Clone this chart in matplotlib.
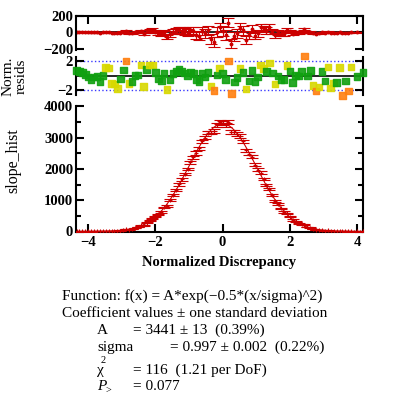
import numpy as np
import matplotlib
matplotlib.use("Agg")
import matplotlib.pyplot as plt
from matplotlib.ticker import MultipleLocator

plt.rcParams['font.family'] = ['Liberation Serif', 'DejaVu Serif']

# histogram bins (regular spacing)
bin_first = -4.335
bin_width = 0.08675
# counts per bin
counts = [1, 1, 1, 1, 1, 1, 2, 3, 3, 6,
          12, 15, 11, 15, 18, 31, 49, 74, 63, 84,
          115, 145, 199, 198, 282, 353, 422, 477, 545, 632,
          768, 825, 994, 1168, 1332, 1505, 1667, 1836, 1999, 2205,
          2378, 2510, 2664, 2879, 2998, 3160, 3161, 3211, 3396, 3491,
          3460, 3397, 3508, 3184, 3187, 3114, 3055, 2879, 2601, 2491,
          2388, 2133, 1981, 1874, 1675, 1486, 1367, 1160, 969, 872,
          738, 632, 582, 476, 369, 322, 264, 225, 216, 141,
          121, 78, 55, 45, 47, 29, 32, 13, 11, 8,
          12, 2, 3, 1, 5, 0, 1, 0, 1]

# fit result
A = 3441
sigma = 0.997

red = '#cc0000'

counts = np.array(counts, dtype=float)
x = bin_first + bin_width*np.arange(len(counts))
fit = A*np.exp(-0.5*(x/sigma)**2)
err = np.sqrt(counts)
ok = counts > 0
resid = counts[ok] - fit[ok]
nres = resid/err[ok]
cols = np.where(np.abs(nres) < 1, '#10a010', np.where(np.abs(nres) < 2, '#d8d800', '#ff8010'))

fig = plt.figure(figsize=(3.94, 4.09), dpi=100)
L = 76/394
W = 287/394
ax1 = fig.add_axes([L, 1-50/409, W, 34/409])
ax2 = fig.add_axes([L, 1-95/409, W, 38/409])
ax3 = fig.add_axes([L, 1-231.5/409, W, 125.5/409])

xlo, xhi = -4.35, 4.17

for ax in (ax1, ax2, ax3):
    ax.set_xlim(xlo, xhi)
    for s in ax.spines.values():
        s.set_linewidth(1.5)
    ax.yaxis.set_ticks_position('both')
    ax.tick_params(axis='both', direction='in', width=1.5, length=6)

# top: raw residuals
ax1.axhline(0, color='black', lw=1.2, zorder=1)
ax1.errorbar(x[ok], resid, yerr=err[ok], fmt='o', ms=1.8, color=red,
             elinewidth=0.8, capsize=4.5, capthick=0.8)
ax1.set_ylim(-216, 202)
ax1.set_yticks([-200, 0, 200])
ax1.xaxis.set_ticks_position('top')
ax1.set_xticks([-4, -2, 0, 2, 4])
ax1.tick_params(axis='x', labeltop=False, labelbottom=False)
ax1.spines['bottom'].set_visible(False)

# middle: normalized residuals
ax2.axhline(0, color='black', lw=1.2, zorder=1)
ax2.axhline(2, color='#3a3aff', lw=1, ls=':', zorder=1)
ax2.axhline(-2, color='#3a3aff', lw=1, ls=':', zorder=1)
ax2.scatter(x[ok], nres, c=cols, marker='s', s=22, alpha=0.9, zorder=3, clip_on=False)
ax2.set_ylim(-2.69, 2.6)
ax2.set_yticks([-2, 2])
ax2.set_xticks([])
ax2.spines['top'].set_visible(False)
ax2.spines['bottom'].set_visible(False)

# bottom: histogram with fit
xf = np.linspace(xlo, xhi, 400)
ax3.plot(xf, A*np.exp(-0.5*(xf/sigma)**2), color=red, lw=0.8, zorder=2)
ax3.errorbar(x, counts, yerr=err, fmt='+', ms=3.5, mew=0.8, color=red,
             elinewidth=0.8, capsize=4.5, capthick=0.8, zorder=3)
ax3.set_ylim(0, 4010)
ax3.set_yticks([0, 1000, 2000, 3000, 4000])
ax3.yaxis.set_minor_locator(MultipleLocator(500))
ax3.tick_params(axis='y', which='minor', direction='in', width=1.5, length=3.5)
ax3.set_xticks([-4, -2, 0, 2, 4])
ax3.spines['top'].set_visible(False)
ax3.set_xlabel('Normalized Discrepancy', fontsize=10.5, fontweight='bold', labelpad=5)

for ax in (ax1, ax2, ax3):
    for lab in ax.get_yticklabels() + ax.get_xticklabels():
        lab.set_fontsize(10.5)
        lab.set_fontweight('bold')
    ax.tick_params(axis='y', pad=2)

fig.text(14.5/394, 1-76/409, 'Norm.\nresids', rotation=90, ha='center', va='center',
         fontsize=11, linespacing=0.95)
fig.text(13/394, 1-161/409, 'slope_hist', rotation=90, ha='center', va='center', fontsize=11.5)

fs = 11
def line(px, py, s, **kw):
    fig.text(px/394, 1-py/409, s, fontsize=fs, va='baseline', **kw)

line(62, 299.5, 'Function: f(x) = A*exp(\u22120.5*(x/sigma)^2)')
line(62, 317, 'Coefficient values \u00b1 one standard deviation')
line(97, 334, 'A')
line(133, 334, '= 3441 \u00b1 13  (0.39%)')
line(97, 351, 'sigma')
line(170, 351, '= 0.997 \u00b1 0.002  (0.22%)')
line(97, 374, '\u03c7')
fig.text(101/394, 1-363/409, '2', fontsize=7.5, va='baseline')
line(133, 373.5, '= 116  (1.21 per DoF)')
line(97, 390.5, 'P', style='italic')
fig.text(105/394, 1-393/409, '>', fontsize=7.5, va='baseline')
line(133, 390.5, '= 0.077')

fig.savefig('out.png', dpi=100)
